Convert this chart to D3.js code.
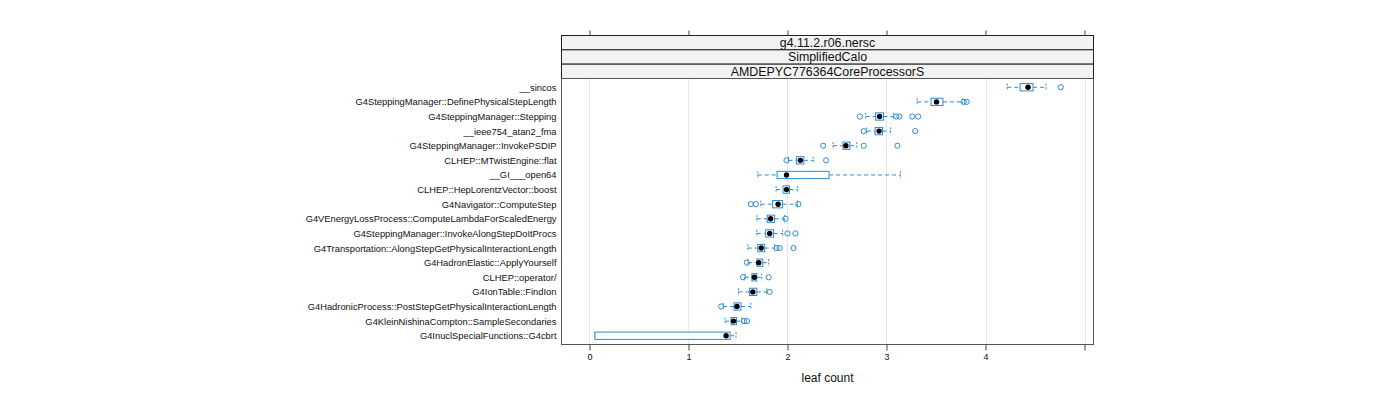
<!DOCTYPE html>
<html><head><meta charset="utf-8">
<script src="https://cdn.jsdelivr.net/npm/d3@7"></script>
<style>body{margin:0;background:#fff}svg{display:block;font-family:"Liberation Sans",Arial,sans-serif}</style>
</head><body><svg id="c" width="1400" height="400"></svg>
<script>
const categories = ["__sincos","G4SteppingManager::DefinePhysicalStepLength","G4SteppingManager::Stepping","__ieee754_atan2_fma","G4SteppingManager::InvokePSDIP","CLHEP::MTwistEngine::flat","__GI___open64","CLHEP::HepLorentzVector::boost","G4Navigator::ComputeStep","G4VEnergyLossProcess::ComputeLambdaForScaledEnergy","G4SteppingManager::InvokeAlongStepDoItProcs","G4Transportation::AlongStepGetPhysicalInteractionLength","G4HadronElastic::ApplyYourself","CLHEP::operator/","G4IonTable::FindIon","G4HadronicProcess::PostStepGetPhysicalInteractionLength","G4KleinNishinaCompton::SampleSecondaries","G4InuclSpecialFunctions::G4cbrt"];
const whiskerLow  = [4.22,3.31,2.79,2.80,2.46,2.01,1.70,1.885,1.73,1.69,1.69,1.60,1.60,1.57,1.505,1.35,1.37,0.055];
const q1          = [4.35,3.45,2.89,2.885,2.56,2.09,1.895,1.955,1.85,1.795,1.78,1.70,1.69,1.64,1.615,1.46,1.43,0.055];
const medians     = [4.43,3.505,2.93,2.925,2.59,2.13,1.99,1.99,1.905,1.83,1.82,1.735,1.71,1.665,1.65,1.49,1.455,1.38];
const q3          = [4.48,3.57,2.97,2.96,2.63,2.165,2.42,2.02,1.95,1.87,1.86,1.77,1.75,1.69,1.69,1.53,1.485,1.42];
const whiskerHigh = [4.61,3.765,3.07,3.04,2.70,2.26,3.14,2.10,2.10,1.97,1.95,1.87,1.81,1.74,1.79,1.63,1.54,1.48];
const outliers    = [[4.76],[3.78,3.81],[2.73,3.10,3.13,3.26,3.32],[2.77,3.29],[2.36,2.77,3.11],[1.99,2.39],[],[],[1.63,1.68,2.11],[1.98],[2.00,2.08],[1.89,1.92,2.06],[1.59],[1.55,1.81],[1.82],[1.33],[1.56,1.59],[]];
const xTicks = [0,1,2,3,4,5];
const xTickLabels = ["0","1","2","3","4",""];
const strips = ["g4.11.2.r06.nersc","SimplifiedCalo","AMDEPYC776364CoreProcessorS"];
const xLabel = "leaf count";

const svg = d3.select("#c");
const L = 561.5, R = 1093.5, T = 78.5, B = 344.5;
const stripTop = 35.5, stripH = 14.33;
const x = d3.scaleLinear().domain([-0.2828, 5.0909]).range([L, R]);
const y = d3.scaleLinear().domain([0.4, 18.6]).range([T, B]);
const blue = "#2f8ad0";

// grid
svg.append("g").selectAll("line").data(xTicks).join("line")
  .attr("x1", d => Math.round(x(d)) + 0.5).attr("x2", d => Math.round(x(d)) + 0.5)
  .attr("y1", T).attr("y2", B).attr("stroke", "#e6e6e6").attr("stroke-width", 1);

// strips
strips.forEach((s, i) => {
  const yy = stripTop + i * stripH;
  svg.append("rect").attr("x", L).attr("y", yy).attr("width", R - L).attr("height", stripH)
    .attr("fill", "#f2f2f2").attr("stroke", "#222").attr("stroke-width", 1);
  svg.append("text").attr("x", (L + R) / 2).attr("y", yy + stripH / 2 + 4.3)
    .attr("text-anchor", "middle").attr("font-size", 12.4).attr("fill", "#111").text(s);
});

// panel border
svg.append("rect").attr("x", L).attr("y", T).attr("width", R - L).attr("height", B - T)
  .attr("fill", "none").attr("stroke", "#555").attr("stroke-width", 1);

// axes
const bottomAxis = d3.axisBottom(x).tickValues(xTicks).tickFormat((d, i) => xTickLabels[i]).tickSizeOuter(0).tickSize(6).tickPadding(3);
const gb = svg.append("g").attr("transform", `translate(0,${B})`).call(bottomAxis);
gb.select(".domain").remove();
gb.selectAll("line").attr("stroke", "#444");
gb.selectAll("text").attr("font-size", 9).attr("fill", "#111").attr("font-family", "'Liberation Sans',Arial,sans-serif");
const topAxis = d3.axisTop(x).tickValues(xTicks).tickFormat("").tickSizeOuter(0).tickSize(5);
const gt = svg.append("g").attr("transform", `translate(0,${stripTop})`).call(topAxis);
gt.select(".domain").remove();
gt.selectAll("line").attr("stroke", "#444");

const yAxis = d3.axisLeft(y).tickValues(d3.range(1, 19)).tickFormat(d => categories[d - 1]).tickSize(0).tickPadding(5);
const gy = svg.append("g").attr("transform", `translate(${L},0)`).call(yAxis);
gy.select(".domain").remove();
gy.selectAll("text").attr("font-size", 9.35).attr("fill", "#111").attr("font-family", "'Liberation Sans',Arial,sans-serif");

svg.append("text").attr("x", (L + R) / 2).attr("y", 382).attr("text-anchor", "middle")
  .attr("font-size", 12).attr("fill", "#111").text(xLabel);

// boxes
const bh = 7.3;
const g = svg.append("g");
categories.forEach((c, i) => {
  const cy = y(i + 1);
  const dash = "4,3";
  g.append("line").attr("x1", x(whiskerLow[i])).attr("x2", x(q1[i])).attr("y1", cy).attr("y2", cy)
    .attr("stroke", blue).attr("stroke-dasharray", dash);
  g.append("line").attr("x1", x(q3[i])).attr("x2", x(whiskerHigh[i])).attr("y1", cy).attr("y2", cy)
    .attr("stroke", blue).attr("stroke-dasharray", dash);
  [whiskerLow[i], whiskerHigh[i]].forEach(v => {
    g.append("line").attr("x1", x(v)).attr("x2", x(v)).attr("y1", cy - bh / 2).attr("y2", cy + bh / 2)
      .attr("stroke", blue).attr("stroke-dasharray", "2,1.5");
  });
  g.append("rect").attr("x", x(q1[i])).attr("y", cy - bh / 2).attr("width", x(q3[i]) - x(q1[i])).attr("height", bh)
    .attr("fill", "#fff").attr("stroke", blue).attr("stroke-width", 1);
  outliers[i].forEach(v => {
    g.append("circle").attr("cx", x(v)).attr("cy", cy).attr("r", 2.6)
      .attr("fill", "none").attr("stroke", blue).attr("stroke-width", 1);
  });
  g.append("circle").attr("cx", x(medians[i])).attr("cy", cy).attr("r", 2.7).attr("fill", "#000");
});
</script></body></html>
